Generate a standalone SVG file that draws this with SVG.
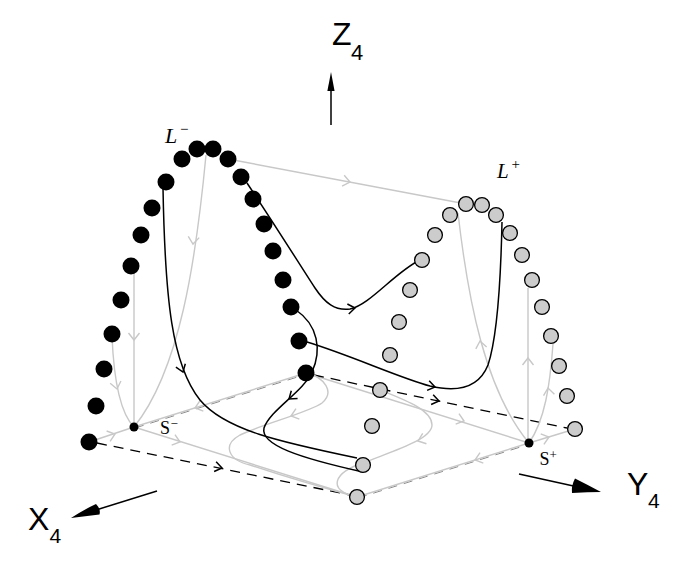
<svg xmlns="http://www.w3.org/2000/svg" width="692" height="563" viewBox="0 0 692 563">
<style>
.g{fill:none;stroke:#c8c8c8;stroke-width:1.4}
.k{fill:none;stroke:#000;stroke-width:1.5}
.d{fill:none;stroke:#000;stroke-width:1.3;stroke-dasharray:10 7}
.dg{fill:none;stroke:#8a8a8a;stroke-width:1;stroke-dasharray:9 7}
.bd{fill:#000}
.gd{fill:#cccccc;stroke:#000;stroke-width:1.3}
.sans{font-family:"Liberation Sans",Arial,sans-serif;fill:#000}
.ser{font-family:"Liberation Serif","Times New Roman",serif;fill:#000}
</style>
<defs>
<path id="cg" d="M-7,-5.5 L0,0 L-7,5.5" class="g"/>
<path id="ck" d="M-7,-5 L0,0 L-7,5" class="k"/>
</defs>
<g id="connectors">
  <path class="dg" d="M135,428 L307,374"/>
  <path class="dg" d="M358,498 L530,444"/>
  <path class="g" d="M134,427 L306,373"/>
  <path class="g" d="M357,497 L529,443"/>
  <path class="g" d="M89,442 L134,427"/>
  <path class="g" d="M529,443 L575,429"/>
  <path class="g" d="M134,427 L357,497"/>
  <path class="g" d="M306,373 L529,443"/>
  <path class="d" d="M97,443 L350,495"/>
  <path class="d" d="M314,375 L567,428"/>
  <path class="g" d="M228,159 L466,204"/>
  <path class="g" d="M206,155 C196,260 180,370 134,427"/>
  <path class="g" d="M134,266 L134,427"/>
  <path class="g" d="M112,336 C114,385 122,415 134,427"/>
  <path class="g" d="M458,213 C468,300 485,390 529,443"/>
  <path class="g" d="M528,288 L528,443"/>
  <path class="g" d="M553,344 C550,385 545,420 529,443"/>
  <path class="g" d="M306,372 C325,378 335,392 322,403 C310,412 260,425 240,435 C222,445 228,460 250,465 C280,475 320,487 357,497"/>
  <path class="g" d="M380,390 C405,400 432,410 432,425 C432,440 390,452 363,463 C335,472 325,490 357,497"/>
  <use href="#cg" transform="translate(350,182) rotate(11.3)"/>
  <use href="#cg" transform="translate(193,244) rotate(96)"/>
  <use href="#cg" transform="translate(134,340) rotate(90)"/>
  <use href="#cg" transform="translate(117,389) rotate(78)"/>
  <use href="#cg" transform="translate(115,434) rotate(-18.4)"/>
  <use href="#cg" transform="translate(195,408) rotate(162.6)"/>
  <use href="#cg" transform="translate(180,442) rotate(17.4)"/>
  <use href="#cg" transform="translate(464,421) rotate(17.4)"/>
  <use href="#cg" transform="translate(475,460) rotate(162.6)"/>
  <use href="#cg" transform="translate(549,437) rotate(-17)"/>
  <use href="#cg" transform="translate(480,341) rotate(-100)"/>
  <use href="#cg" transform="translate(528,358) rotate(-90)"/>
  <use href="#cg" transform="translate(548,388) rotate(-98)"/>
  <use href="#cg" transform="translate(291,416) rotate(162)"/>
  <use href="#cg" transform="translate(418,441) rotate(160)"/>
  <use href="#ck" transform="translate(222,468) rotate(11.6)"/>
  <use href="#ck" transform="translate(439,401) rotate(11.8)"/>
  <path class="k" d="M163,188 C165,300 172,365 200,400 C225,430 280,442 357,458"/>
  <path class="k" d="M247,183 C275,225 300,265 315,288 C325,303 335,311 350,309 C370,305 395,272 420,260"/>
  <path class="k" d="M296,310 C318,325 322,350 312,372 C303,392 270,410 264,428 C260,445 300,458 363,472"/>
  <path class="k" d="M307,342 C350,355 400,378 430,386 C455,392 478,390 488,365 C498,335 501,270 502,222"/>
  <use href="#ck" transform="translate(183,372) rotate(70)"/>
  <use href="#ck" transform="translate(355,308) rotate(-8)"/>
  <use href="#ck" transform="translate(289,399) rotate(141)"/>
  <use href="#ck" transform="translate(435,387) rotate(12)"/>
</g>
<g id="L-minus">
  <circle class="bd" cx="89" cy="442" r="8.5"/>
  <circle class="bd" cx="96" cy="406" r="8.5"/>
  <circle class="bd" cx="104" cy="369" r="8.5"/>
  <circle class="bd" cx="112" cy="334" r="8.5"/>
  <circle class="bd" cx="121" cy="300" r="8.5"/>
  <circle class="bd" cx="131" cy="266" r="8.5"/>
  <circle class="bd" cx="141" cy="235" r="8.5"/>
  <circle class="bd" cx="152" cy="208" r="8.5"/>
  <circle class="bd" cx="166" cy="182" r="8.5"/>
  <circle class="bd" cx="182" cy="159" r="8.5"/>
  <circle class="bd" cx="197" cy="149" r="8.5"/>
  <circle class="bd" cx="213" cy="149" r="8.5"/>
  <circle class="bd" cx="228" cy="159" r="8.5"/>
  <circle class="bd" cx="241" cy="177" r="8.5"/>
  <circle class="bd" cx="253" cy="199" r="8.5"/>
  <circle class="bd" cx="264" cy="224" r="8.5"/>
  <circle class="bd" cx="273" cy="251" r="8.5"/>
  <circle class="bd" cx="283" cy="280" r="8.5"/>
  <circle class="bd" cx="291" cy="307" r="8.5"/>
  <circle class="bd" cx="299" cy="341" r="8.5"/>
  <circle class="bd" cx="306" cy="373" r="8.5"/>
  <text class="ser" x="165" y="143" font-size="22" font-style="italic">L<tspan x="180" y="133.5" font-size="15" font-style="normal">−</tspan></text>
</g>
<g id="L-plus">
  <circle class="gd" cx="357" cy="497" r="7.4"/>
  <circle class="gd" cx="363" cy="465" r="7.4"/>
  <circle class="gd" cx="372" cy="426" r="7.4"/>
  <circle class="gd" cx="380" cy="390" r="7.4"/>
  <circle class="gd" cx="390" cy="355" r="7.4"/>
  <circle class="gd" cx="399" cy="322" r="7.4"/>
  <circle class="gd" cx="410" cy="290" r="7.4"/>
  <circle class="gd" cx="422" cy="260" r="7.4"/>
  <circle class="gd" cx="435" cy="235" r="7.4"/>
  <circle class="gd" cx="450" cy="215" r="7.4"/>
  <circle class="gd" cx="466" cy="204" r="7.4"/>
  <circle class="gd" cx="482" cy="205" r="7.4"/>
  <circle class="gd" cx="496" cy="215" r="7.4"/>
  <circle class="gd" cx="510" cy="233" r="7.4"/>
  <circle class="gd" cx="522" cy="255" r="7.4"/>
  <circle class="gd" cx="532" cy="280" r="7.4"/>
  <circle class="gd" cx="542" cy="307" r="7.4"/>
  <circle class="gd" cx="551" cy="336" r="7.4"/>
  <circle class="gd" cx="559" cy="366" r="7.4"/>
  <circle class="gd" cx="567" cy="396" r="7.4"/>
  <circle class="gd" cx="575" cy="429" r="7.4"/>
  <text class="ser" x="497" y="178" font-size="21" font-style="italic">L<tspan x="511.5" y="168.5" font-size="15" font-style="normal">+</tspan></text>
</g>
<g id="S-minus">
  <circle class="bd" cx="134" cy="427" r="4.5"/>
  <text class="ser" x="160" y="434" font-size="18">S<tspan x="170.5" y="428" font-size="13">−</tspan></text>
</g>
<g id="S-plus">
  <circle class="bd" cx="529" cy="443" r="4.5"/>
  <text class="ser" x="539.5" y="465" font-size="18">S<tspan x="549.5" y="458.5" font-size="13">+</tspan></text>
</g>
<g id="axis-z">
  <path d="M331,125 L331,88" stroke="#000" stroke-width="1.5"/>
  <path d="M331,72 L334.6,91 L327.4,91 Z" fill="#000"/>
  <text class="sans" x="332" y="45" font-size="32">Z<tspan x="351" y="60" font-size="22">4</tspan></text>
</g>
<g id="axis-x">
  <path d="M157,491 L96,510" stroke="#000" stroke-width="1.5"/>
  <path d="M71,518 Q85,509 96,504 Q101,509 99.5,514.5 Q85,516 71,518 Z" fill="#000"/>
  <text class="sans" x="28" y="530" font-size="32">X<tspan x="49.5" y="543" font-size="21">4</tspan></text>
</g>
<g id="axis-y">
  <path d="M519,474 L578,487" stroke="#000" stroke-width="1.5"/>
  <path d="M601,492 Q588,485 575,478.5 Q571,486 572,493 Q588,492 601,492 Z" fill="#000"/>
  <text class="sans" x="627" y="495" font-size="32">Y<tspan x="648" y="508" font-size="21">4</tspan></text>
</g>
</svg>
